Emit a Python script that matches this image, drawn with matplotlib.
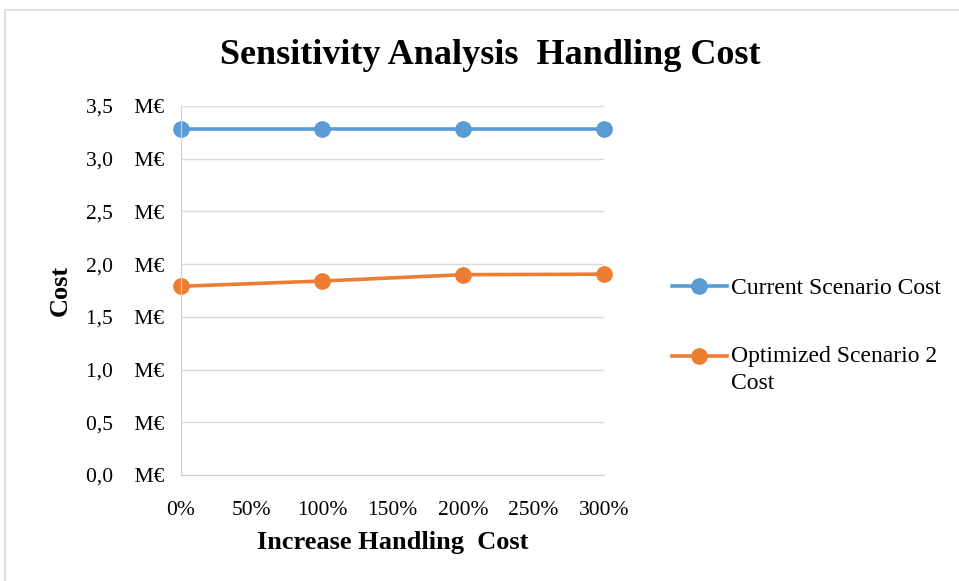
import numpy as np
import matplotlib.pyplot as plt
from matplotlib.ticker import FuncFormatter, MultipleLocator
from matplotlib.patches import Rectangle

plt.rcParams['font.family'] = ['Liberation Serif', 'DejaVu Serif']

# dados
aumento = [0, 100, 200, 300]  # % aumento do custo de manuseio
custo_atual = [3.28, 3.28, 3.28, 3.28]
custo_otimizado = [1.79, 1.84, 1.90, 1.905]
nome_series = ["Current Scenario Cost", "Optimized Scenario 2\nCost"]

azul = '#5B9BD5'
laranja = '#ED7D31'

fig = plt.figure(figsize=(9.59, 5.81), dpi=100)
ax = fig.add_axes([181/959, 106/581, 423/959, 369/581])

# borda do grafico
fig.patches.append(Rectangle((5/959, -0.05), 1, 1.05 - 10/581, transform=fig.transFigure,
                             fill=False, edgecolor='#D9D9D9', linewidth=1.2))

ax.plot(aumento, custo_atual, color=azul, lw=2.6, marker='o', ms=11, label=nome_series[0])
ax.plot(aumento, custo_otimizado, color=laranja, lw=2.6, marker='o', ms=11, label=nome_series[1])

ax.set_xlim(0, 300)
ax.set_ylim(0, 3.5)
ax.xaxis.set_major_locator(MultipleLocator(50))
ax.yaxis.set_major_locator(MultipleLocator(0.5))
ax.xaxis.set_major_formatter(FuncFormatter(lambda v, p: f"{int(v)}%"))
ax.yaxis.set_major_formatter(FuncFormatter(lambda v, p: f"{v:.1f}".replace('.', ',') + "    M€"))
ax.tick_params(length=0, labelsize=15.5, pad=12)
ax.tick_params(axis='x', pad=19)

ax.grid(axis='y', color='#D9D9D9', lw=1)
ax.set_axisbelow(True)
for lado in ['top', 'right']:
    ax.spines[lado].set_visible(False)
for lado in ['left', 'bottom']:
    ax.spines[lado].set_color('#D0D0D0')
ax.margins(x=0)
for linha in ax.lines:
    linha.set_clip_on(False)

ax.set_xlabel("Increase Handling  Cost", fontsize=19, fontweight='bold', va='center')
ax.set_ylabel("Cost", fontsize=19, fontweight='bold', va='center')
ax.xaxis.set_label_coords(0.5, (475 - 543) / 369)
ax.yaxis.set_label_coords((60 - 181) / 423, 0.5)
fig.text(490/959, 1 - 55/581, "Sensitivity Analysis  Handling Cost", ha='center', va='center',
         fontsize=26, fontweight='bold')

leg = fig.legend(loc='upper left', bbox_to_anchor=(651/959, 1 - 256/581), frameon=False,
                 fontsize=17, handlelength=2.3, handletextpad=0.17, labelspacing=2.0)
for t in leg.get_texts():
    t.set_linespacing(1.35)
# marcador da segunda serie alinhado com a primeira linha do texto
h2 = leg.legend_handles[1]
h2.set_ydata(np.asarray(h2.get_ydata()) + 9.7)

fig.savefig('out.png', dpi=100)
